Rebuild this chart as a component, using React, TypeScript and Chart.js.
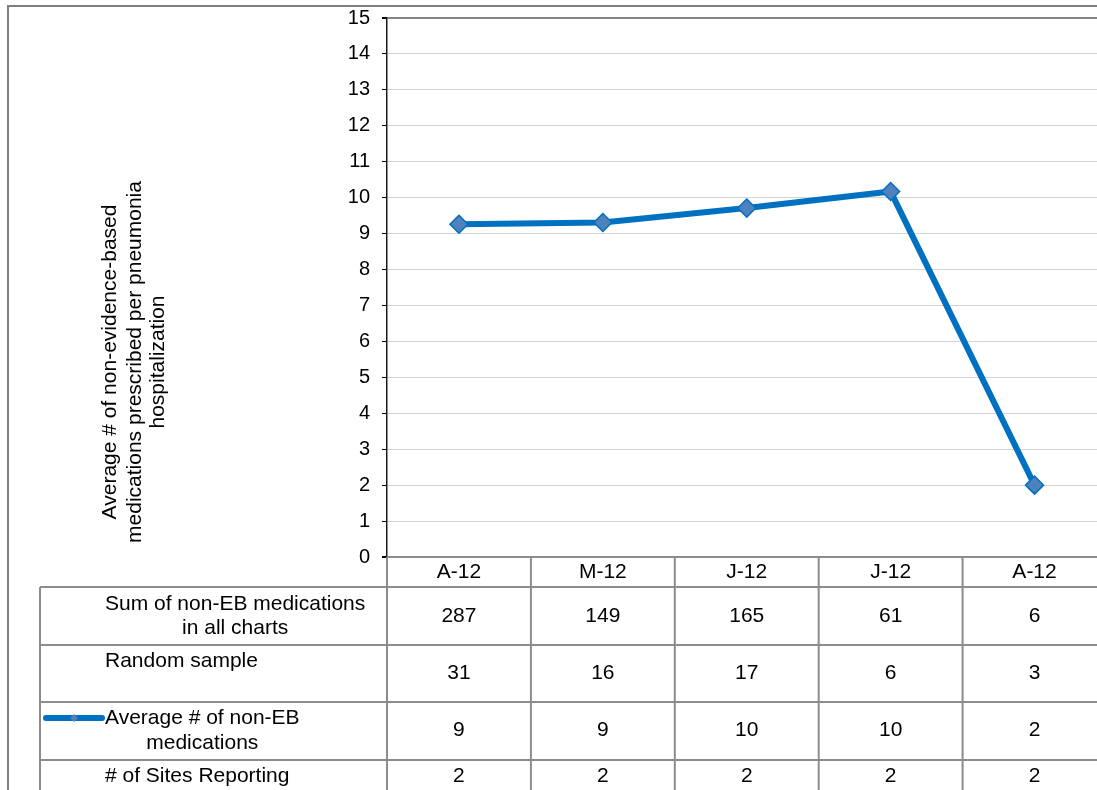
import React, { useEffect, useRef } from "react";
import { Chart, registerables } from "chart.js";

Chart.register(...registerables);

const categories = ["A-12", "M-12", "J-12", "J-12", "A-12"];
const averageValues = [9.26, 9.31, 9.71, 10.17, 2.0];
const sumValues = ["287", "149", "165", "61", "6"];
const sampleValues = ["31", "16", "17", "6", "3"];
const averageRounded = ["9", "9", "10", "10", "2"];
const sitesValues = ["2", "2", "2", "2", "2"];
const yMin = 0;
const yMax = 15;
const yStep = 1;
const yTitleLines = [
  "Average # of non-evidence-based",
  "medications prescribed per pneumonia",
  "hospitalization",
];
const rowLabels = [
  ["Sum of non-EB medications", "in all charts"],
  ["Random sample"],
  ["Average # of non-EB", "medications"],
  ["# of Sites Reporting"],
];
const rowValues = [sumValues, sampleValues, averageRounded, sitesValues];

const FONT = "'Liberation Sans', Arial, sans-serif";
const LINE_COLOR = "#0070C0";
const MARKER_FILL = "#4F81BD";
const TABLE_LINE = "#8c8c8c";
const CANVAS_W = 1117;
const CANVAS_H = 800;

const tablePlugin = {
  id: "dataTable",
  afterDraw(chart: any) {
    const ctx = chart.ctx as CanvasRenderingContext2D;
    const xs = chart.scales.x;
    const area = chart.chartArea;
    const W = chart.width;
    const H = chart.height;
    const colW = xs.getPixelForValue(1) - xs.getPixelForValue(0);
    const half = colW / 2;
    const tableLeft = 40;
    const labelLeft = 105;
    const headerH = 30;
    const rowHeights = [58, 57, 58, 58];
    const bottom = area.bottom;

    ctx.save();
    // outer frame
    ctx.strokeStyle = "#7f7f7f";
    ctx.lineWidth = 2;
    ctx.beginPath();
    ctx.moveTo(8, H);
    ctx.lineTo(8, 6);
    ctx.lineTo(W, 6);
    ctx.stroke();

    // table lines
    ctx.strokeStyle = TABLE_LINE;
    ctx.lineWidth = 2;
    ctx.beginPath();
    ctx.moveTo(area.left, bottom);
    ctx.lineTo(W, bottom);
    let y = bottom + headerH;
    const rowTops: number[] = [];
    for (let r = 0; r < rowHeights.length; r++) {
      rowTops.push(y);
      ctx.moveTo(tableLeft, y);
      ctx.lineTo(W, y);
      y += rowHeights[r];
    }
    ctx.moveTo(tableLeft, bottom + headerH);
    ctx.lineTo(tableLeft, H);
    for (let i = 0; i <= categories.length; i++) {
      const x = i < categories.length ? xs.getPixelForValue(i) - half : xs.getPixelForValue(i - 1) + half;
      ctx.moveTo(x, bottom);
      ctx.lineTo(x, H);
    }
    ctx.stroke();

    // header labels
    ctx.fillStyle = "#000";
    ctx.font = `21px ${FONT}`;
    ctx.textAlign = "center";
    ctx.textBaseline = "middle";
    categories.forEach((c, i) => {
      ctx.fillText(c, xs.getPixelForValue(i), bottom + headerH / 2);
    });

    // values
    const valueYs = [rowTops[0] + 29, rowTops[1] + 28, rowTops[2] + 28, rowTops[3] + 16];
    rowValues.forEach((vals, r) => {
      vals.forEach((v, i) => {
        ctx.fillText(v, xs.getPixelForValue(i), valueYs[r]);
      });
    });

    // row labels
    const labelYs = [
      [rowTops[0] + 17, rowTops[0] + 41],
      [rowTops[1] + 16],
      [rowTops[2] + 16, rowTops[2] + 41],
      [rowTops[3] + 16],
    ];
    rowLabels.forEach((lines, r) => {
      const firstW = ctx.measureText(lines[0]).width;
      const cx = labelLeft + firstW / 2;
      lines.forEach((ln, k) => {
        ctx.textAlign = "center";
        ctx.fillText(ln, cx, labelYs[r][k]);
      });
    });

    // legend key
    const ky = labelYs[2][0];
    ctx.strokeStyle = LINE_COLOR;
    ctx.lineWidth = 6;
    ctx.lineCap = "round";
    ctx.beginPath();
    ctx.moveTo(46, ky);
    ctx.lineTo(102, ky);
    ctx.stroke();
    ctx.fillStyle = MARKER_FILL;
    ctx.beginPath();
    ctx.moveTo(74, ky - 4);
    ctx.lineTo(78, ky);
    ctx.lineTo(74, ky + 4);
    ctx.lineTo(70, ky);
    ctx.closePath();
    ctx.fill();

    // y-axis title
    ctx.fillStyle = "#000";
    ctx.font = `21px ${FONT}`;
    ctx.textAlign = "center";
    ctx.textBaseline = "middle";
    const titleXs = [110, 135, 158];
    const cy = 362;
    yTitleLines.forEach((ln, k) => {
      ctx.save();
      ctx.translate(titleXs[k], cy);
      ctx.rotate(-Math.PI / 2);
      ctx.fillText(ln, 0, 0);
      ctx.restore();
    });
    ctx.restore();
  },
};

export default function App() {
  const ref = useRef<HTMLCanvasElement | null>(null);

  useEffect(() => {
    if (!ref.current) return;
    const chart = new Chart(ref.current, {
      type: "line",
      data: {
        labels: categories,
        datasets: [
          {
            label: "Average # of non-EB medications",
            data: averageValues,
            borderColor: LINE_COLOR,
            borderWidth: 6,
            pointStyle: "rectRot",
            pointRadius: 9,
            pointBackgroundColor: MARKER_FILL,
            pointBorderColor: LINE_COLOR,
            pointBorderWidth: 1.5,
            tension: 0,
          },
        ],
      },
      options: {
        animation: false,
        responsive: false,
        devicePixelRatio: 1,
        layout: { padding: { top: 18, right: 3, left: 0, bottom: 0 } },
        plugins: { legend: { display: false }, tooltip: { enabled: false } },
        scales: {
          x: {
            offset: true,
            grid: { display: false },
            border: { display: false },
            ticks: { display: false },
            afterFit: (scale: any) => {
              scale.height = CANVAS_H - 557;
              scale.paddingLeft = 0;
              scale.paddingRight = 0;
            },
          },
          y: {
            min: yMin,
            max: yMax,
            ticks: {
              stepSize: yStep,
              color: "#000",
              padding: 12,
              font: { family: FONT, size: 20 },
            },
            grid: {
              tickLength: 5,
              tickColor: "#000",
              color: (c: any) =>
                c.tick && c.tick.value === yMax
                  ? "#868686"
                  : c.tick && c.tick.value === yMin
                  ? TABLE_LINE
                  : "#d4d4d4",
              lineWidth: (c: any) =>
                c.tick && (c.tick.value === yMax || c.tick.value === yMin) ? 2 : 1,
            },
            border: { color: "#1a1a1a", width: 1.5 },
            afterFit: (scale: any) => {
              scale.width = 387;
              scale.paddingTop = 0;
              scale.paddingBottom = 0;
            },
          },
        },
      },
      plugins: [tablePlugin],
    });
    return () => chart.destroy();
  }, []);

  return (
    <div
      style={{
        position: "fixed",
        left: 0,
        top: 0,
        width: 1097,
        height: 790,
        overflow: "hidden",
        background: "#fff",
      }}
    >
      <canvas ref={ref} width={CANVAS_W} height={CANVAS_H} style={{ display: "block" }} />
    </div>
  );
}
